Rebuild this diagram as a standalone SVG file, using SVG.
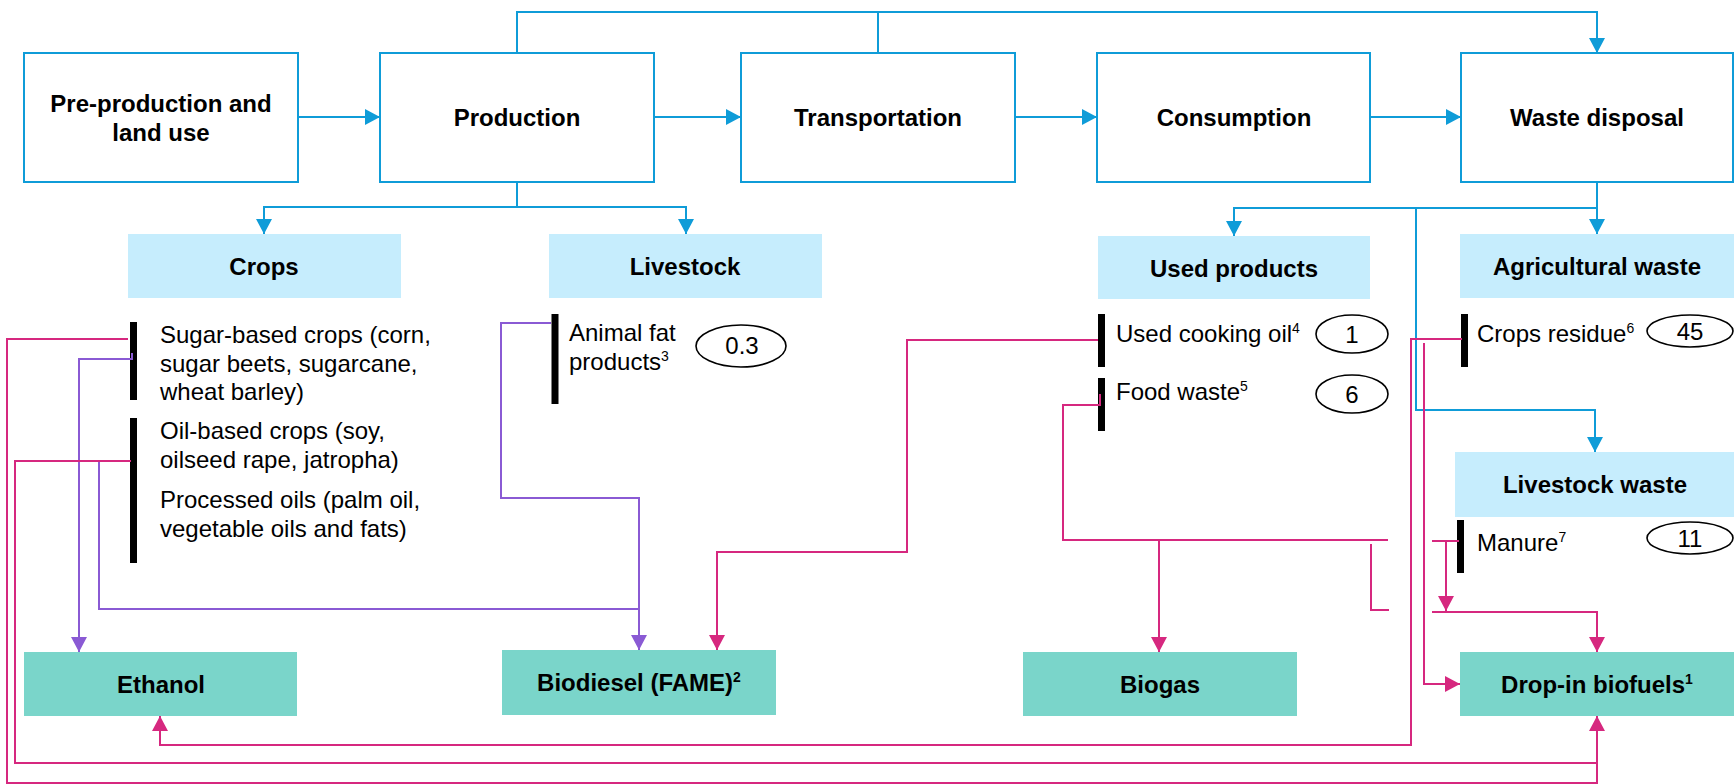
<svg xmlns="http://www.w3.org/2000/svg" width="1734" height="784" viewBox="0 0 1734 784">
  <style>
    .stage { fill: #ffffff; stroke: #0f9cd8; stroke-width: 2; }
    .cat { fill: #c6edfd; }
    .fuel { fill: #7ad5ca; }
    .bar { fill: #000000; }
    .qty { fill: #ffffff; stroke: #000000; stroke-width: 1.6; }
    text { font-family: "Liberation Sans", Arial, sans-serif; fill: #000000; }
    .hd { font-size: 24px; font-weight: bold; text-anchor: middle; }
    .item { font-size: 24px; }
    .num { font-size: 24px; text-anchor: middle; }
    .sup { font-size: 14px; }
    .blue { fill: none; stroke: #0f9cd8; stroke-width: 2; }
    .purple { fill: none; stroke: #8a5ad4; stroke-width: 2; }
    .pink { fill: none; stroke: #d6287f; stroke-width: 2; }
  </style>
  <defs>
    <marker id="arrow-blue" viewBox="0 0 15 16" refX="15" refY="8" markerWidth="15" markerHeight="16" markerUnits="userSpaceOnUse" orient="auto">
      <path d="M0,0 L15,8 L0,16 z" fill="#0f9cd8"/>
    </marker>
    <marker id="arrow-purple" viewBox="0 0 15 16" refX="15" refY="8" markerWidth="15" markerHeight="16" markerUnits="userSpaceOnUse" orient="auto">
      <path d="M0,0 L15,8 L0,16 z" fill="#8a5ad4"/>
    </marker>
    <marker id="arrow-pink" viewBox="0 0 15 16" refX="15" refY="8" markerWidth="15" markerHeight="16" markerUnits="userSpaceOnUse" orient="auto">
      <path d="M0,0 L15,8 L0,16 z" fill="#d6287f"/>
    </marker>
  </defs>

  <rect width="1734" height="784" fill="#ffffff"/>

  <!-- supply chain stages -->
  <g id="pre-production">
    <rect class="stage" x="24" y="53" width="274" height="129"/>
    <text class="hd" x="161" y="112">Pre-production and</text>
    <text class="hd" x="161" y="141">land use</text>
  </g>
  <g id="production">
    <rect class="stage" x="380" y="53" width="274" height="129"/>
    <text class="hd" x="517" y="126">Production</text>
  </g>
  <g id="transportation">
    <rect class="stage" x="741" y="53" width="274" height="129"/>
    <text class="hd" x="878" y="126">Transportation</text>
  </g>
  <g id="consumption">
    <rect class="stage" x="1097" y="53" width="273" height="129"/>
    <text class="hd" x="1234" y="126">Consumption</text>
  </g>
  <g id="waste-disposal">
    <rect class="stage" x="1461" y="53" width="272" height="129"/>
    <text class="hd" x="1597" y="126">Waste disposal</text>
  </g>

  <!-- feedstock categories -->
  <g id="crops">
    <rect class="cat" x="128" y="234" width="273" height="64"/>
    <text class="hd" x="264" y="275">Crops</text>
  </g>
  <g id="livestock">
    <rect class="cat" x="549" y="234" width="273" height="64"/>
    <text class="hd" x="685" y="275">Livestock</text>
  </g>
  <g id="used-products">
    <rect class="cat" x="1098" y="236" width="272" height="63"/>
    <text class="hd" x="1234" y="277">Used products</text>
  </g>
  <g id="agricultural-waste">
    <rect class="cat" x="1460" y="234" width="274" height="64"/>
    <text class="hd" x="1597" y="275">Agricultural waste</text>
  </g>
  <g id="livestock-waste">
    <rect class="cat" x="1455" y="452" width="279" height="65"/>
    <text class="hd" x="1595" y="493">Livestock waste</text>
  </g>

  <!-- feedstock items -->
  <g id="sugar-crops">
    <rect class="bar" x="130" y="322" width="7" height="78"/>
    <text class="item" x="160" y="343">Sugar-based crops (corn,</text>
    <text class="item" x="160" y="371.5">sugar beets, sugarcane,</text>
    <text class="item" x="160" y="400">wheat barley)</text>
  </g>
  <g id="oil-crops">
    <rect class="bar" x="130" y="418" width="7" height="145"/>
    <text class="item" x="160" y="439">Oil-based crops (soy,</text>
    <text class="item" x="160" y="467.5">oilseed rape, jatropha)</text>
    <text class="item" x="160" y="508">Processed oils (palm oil,</text>
    <text class="item" x="160" y="536.5">vegetable oils and fats)</text>
  </g>
  <g id="animal-fat">
    <rect class="bar" x="551.5" y="314" width="7" height="90"/>
    <text class="item" x="569" y="341">Animal fat</text>
    <text class="item" x="569" y="370">products<tspan class="sup" dy="-9">3</tspan></text>
    <ellipse class="qty" cx="741" cy="346" rx="45" ry="21"/>
    <text class="num" x="742" y="354">0.3</text>
  </g>
  <g id="used-cooking-oil">
    <rect class="bar" x="1098" y="314" width="7" height="53"/>
    <text class="item" x="1116" y="342">Used cooking oil<tspan class="sup" dy="-9">4</tspan></text>
    <ellipse class="qty" cx="1352" cy="334" rx="36" ry="19"/>
    <text class="num" x="1352" y="343">1</text>
  </g>
  <g id="food-waste">
    <rect class="bar" x="1098" y="378" width="7" height="53"/>
    <text class="item" x="1116" y="400">Food waste<tspan class="sup" dy="-9">5</tspan></text>
    <ellipse class="qty" cx="1352" cy="394" rx="36" ry="19"/>
    <text class="num" x="1352" y="403">6</text>
  </g>
  <g id="crops-residue">
    <rect class="bar" x="1461" y="314" width="7" height="53"/>
    <text class="item" x="1477" y="342">Crops residue<tspan class="sup" dy="-9">6</tspan></text>
    <ellipse class="qty" cx="1690" cy="331" rx="43" ry="16"/>
    <text class="num" x="1690" y="340">45</text>
  </g>
  <g id="manure">
    <rect class="bar" x="1457" y="520" width="7" height="53"/>
    <text class="item" x="1477" y="551">Manure<tspan class="sup" dy="-9">7</tspan></text>
    <ellipse class="qty" cx="1690" cy="538" rx="43" ry="16"/>
    <text class="num" x="1690" y="547">11</text>
  </g>

  <!-- biofuels -->
  <g id="ethanol">
    <rect class="fuel" x="24" y="652" width="273" height="64"/>
    <text class="hd" x="161" y="693">Ethanol</text>
  </g>
  <g id="biodiesel">
    <rect class="fuel" x="502" y="650" width="274" height="65"/>
    <text class="hd" x="639" y="691">Biodiesel (FAME)<tspan class="sup" dy="-9">2</tspan></text>
  </g>
  <g id="biogas">
    <rect class="fuel" x="1023" y="652" width="274" height="64"/>
    <text class="hd" x="1160" y="693">Biogas</text>
  </g>
  <g id="drop-in-biofuels">
    <rect class="fuel" x="1460" y="652" width="274" height="64"/>
    <text class="hd" x="1597" y="693">Drop-in biofuels<tspan class="sup" dy="-9">1</tspan></text>
  </g>

  <!-- connectors -->
  <g id="connectors">
    <!-- stage sequence -->
    <path class="blue" d="M298,117 H380" marker-end="url(#arrow-blue)"/>
    <path class="blue" d="M654,117 H741" marker-end="url(#arrow-blue)"/>
    <path class="blue" d="M1015,117 H1097" marker-end="url(#arrow-blue)"/>
    <path class="blue" d="M1370,117 H1461" marker-end="url(#arrow-blue)"/>
    <path class="blue" d="M517,53 V12 H1597 V53" marker-end="url(#arrow-blue)"/>
    <path class="blue" d="M878,53 V12"/>
    <!-- production to categories -->
    <path class="blue" d="M517,182 V207 H264 V234" marker-end="url(#arrow-blue)"/>
    <path class="blue" d="M517,207 H686 V234" marker-end="url(#arrow-blue)"/>
    <!-- waste disposal to categories -->
    <path class="blue" d="M1597,182 V234" marker-end="url(#arrow-blue)"/>
    <path class="blue" d="M1597,208 H1234 V236" marker-end="url(#arrow-blue)"/>
    <path class="blue" d="M1416,208 V410 H1595 V452" marker-end="url(#arrow-blue)"/>

    <!-- purple feedstock routes -->
    <path class="purple" d="M132,353 V359 H79 V652" marker-end="url(#arrow-purple)"/>
    <path class="purple" d="M99,461 V609 H639"/>
    <path class="purple" d="M551,323 H501 V498 H639 V650" marker-end="url(#arrow-purple)"/>

    <!-- pink feedstock routes -->
    <path class="pink" d="M128,339 H7 V783 H1597 V716" marker-end="url(#arrow-pink)"/>
    <path class="pink" d="M131,461 H15 V763 H1597"/>
    <path class="pink" d="M1098,340 H907 V552 H717 V650" marker-end="url(#arrow-pink)"/>
    <path class="pink" d="M1100,394 V405 H1063 V540 H1388"/>
    <path class="pink" d="M1159,540 V652" marker-end="url(#arrow-pink)"/>
    <path class="pink" d="M1371,544 V610 H1389"/>
    <path class="pink" d="M1462,339 H1411 V745 H160 V716" marker-end="url(#arrow-pink)"/>
    <path class="pink" d="M1424,343 V684 H1460" marker-end="url(#arrow-pink)"/>
    <path class="pink" d="M1459,541 H1432"/>
    <path class="pink" d="M1446,541 V611" marker-end="url(#arrow-pink)"/>
    <path class="pink" d="M1432,612 H1597 V652" marker-end="url(#arrow-pink)"/>
  </g>
</svg>
